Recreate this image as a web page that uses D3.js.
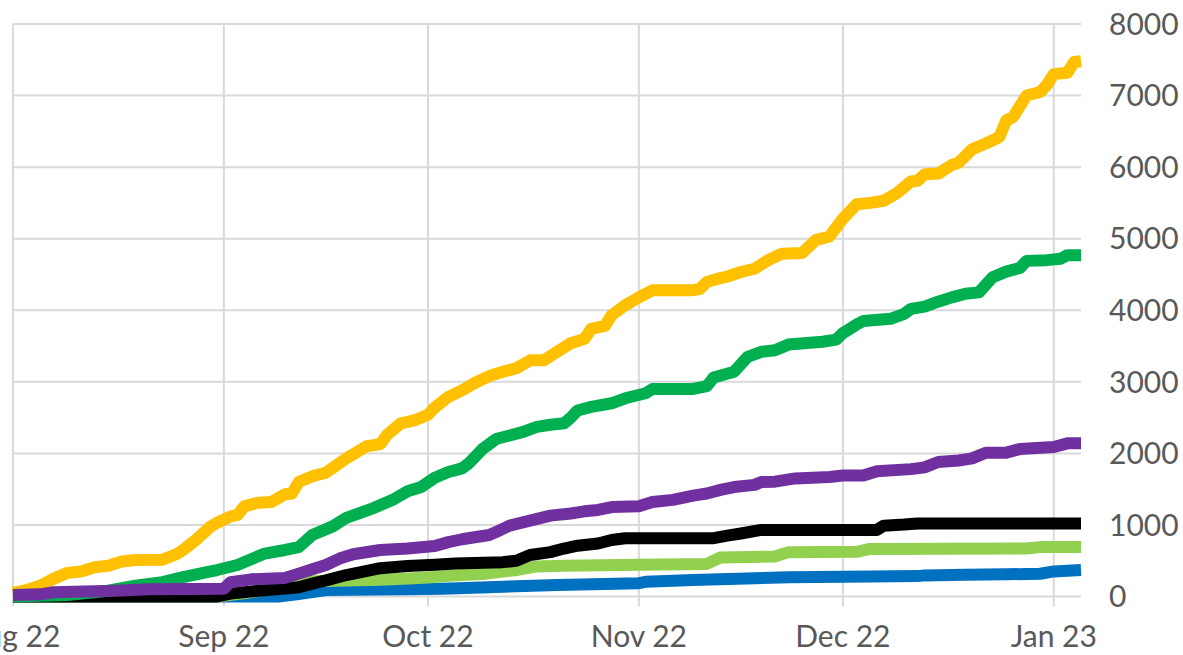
<!DOCTYPE html>
<html>
<head>
  <meta charset="utf-8">
  <title>Cumulative totals Aug 22 - Jan 23</title>
  <style>
    body { margin: 0; background: #fff; }
    svg { display: block; }
  </style>
</head>
<body>
  <script src="https://d3js.org/d3.v7.min.js"></script>
  <script>
  // days counted from 1 Aug 2022, cumulative value
  var yellow = [[0,50],[2,90],[4,150],[6,250],[8,330],[10,350],[12,410],[14,430],[16,490],[18,510],[22,515],[24,590],[25,650],[27,800],[29,975],[30,1030],[32,1120],[33,1140],[34,1260],[36,1310],[38,1320],[40,1430],[41,1440],[42,1600],[44,1680],[46,1730],[49,1930],[52,2100],[54,2130],[55,2260],[57,2420],[59,2460],[61,2540],[62,2640],[64,2790],[66,2880],[68,2990],[70,3080],[72,3140],[74,3190],[76,3300],[78,3300],[80,3420],[82,3540],[84,3600],[85,3740],[87,3780],[88,3930],[90,4070],[92,4180],[94,4280],[100,4280],[101,4300],[102,4395],[104,4450],[105,4470],[107,4535],[109,4580],[111,4700],[113,4790],[116,4800],[118,4980],[120,5030],[122,5280],[124,5480],[126,5500],[128,5530],[130,5640],[132,5800],[133,5810],[134,5900],[136,5910],[138,6030],[139,6060],[141,6250],[143,6330],[145,6420],[146,6650],[147,6700],[149,7000],[151,7050],[152,7150],[153,7300],[155,7320],[156,7470],[157,7480]];
  var green = [[0,0],[8,20],[14,80],[18,150],[22,200],[25,270],[28,330],[30,370],[33,440],[35,520],[37,600],[40,650],[42,690],[44,860],[47,980],[49,1100],[53,1235],[56,1360],[58,1470],[60,1530],[62,1660],[64,1740],[66,1790],[67,1860],[69,2060],[71,2200],[73,2250],[75,2300],[77,2370],[79,2400],[81,2420],[82,2500],[83,2600],[85,2650],[88,2700],[90,2770],[93,2840],[94,2900],[100,2900],[102,2940],[103,3060],[106,3140],[108,3350],[110,3420],[112,3440],[114,3520],[119,3560],[121,3590],[122,3680],[124,3800],[125,3850],[129,3880],[131,3950],[132,4020],[134,4050],[136,4120],[138,4180],[140,4230],[142,4250],[144,4460],[146,4540],[148,4590],[149,4690],[152,4700],[154,4720],[155,4770],[157,4770]];
  var purple = [[0,20],[4,30],[6,60],[15,80],[20,100],[31,110],[32,200],[35,240],[40,260],[42,320],[44,380],[46,440],[48,530],[50,590],[54,650],[58,670],[62,705],[64,760],[66,800],[70,860],[71,900],[73,990],[76,1060],[79,1130],[82,1160],[84,1190],[86,1210],[88,1250],[92,1260],[94,1320],[97,1350],[100,1410],[102,1440],[104,1490],[106,1530],[109,1560],[110,1600],[112,1605],[115,1650],[120,1670],[122,1690],[125,1690],[127,1750],[132,1780],[134,1805],[136,1880],[139,1900],[141,1930],[143,2010],[146,2010],[148,2060],[153,2090],[155,2140],[157,2140]];
  var black = [[0,0],[30,0],[32,40],[36,80],[40,110],[42,130],[44,180],[46,225],[49,300],[54,395],[58,425],[62,445],[65,460],[72,480],[74,500],[76,580],[79,620],[81,670],[83,710],[86,740],[88,790],[90,815],[103,815],[105,850],[107,880],[110,930],[127,930],[128,990],[131,1005],[133,1020],[157,1020]];
  var lightGreen = [[0,0],[30,0],[35,60],[40,150],[43,210],[49,225],[54,235],[59,255],[61,265],[64,290],[69,315],[74,370],[77,420],[81,430],[92,443],[102,455],[104,545],[112,560],[114,620],[124,625],[126,665],[149,670],[151,690],[157,690]];
  var blue = [[0,0],[39,0],[42,35],[46,90],[58,100],[63,110],[70,130],[80,160],[92,186],[93,205],[100,230],[114,270],[126,280],[133,285],[134,295],[140,305],[146,310],[151,318],[153,350],[157,370]];

  var seriesList = [
    { name: "blue",       color: "#0070C0", values: blue },
    { name: "lightGreen", color: "#92D050", values: lightGreen },
    { name: "black",      color: "#000000", values: black },
    { name: "yellow",     color: "#FFC000", values: yellow },
    { name: "green",      color: "#00B050", values: green },
    { name: "purple",     color: "#7030A0", values: purple }
  ];

  var monthTicks = ["2022-08-01", "2022-09-01", "2022-10-01", "2022-11-01", "2022-12-01", "2023-01-01"];
  var yTicks = [0, 1000, 2000, 3000, 4000, 5000, 6000, 7000, 8000];

  var W = 1183, H = 655;
  var plot = { left: 13, right: 1081, top: 24, bottom: 596.5 };

  var startDate = new Date(2022, 7, 1);
  var endDate = new Date(2023, 0, 5);
  var parse = d3.timeParse("%Y-%m-%d");
  var toDate = function(day) { return d3.timeDay.offset(startDate, day); };

  var x = d3.scaleTime().domain([startDate, endDate]).range([plot.left, plot.right]);
  var y = d3.scaleLinear().domain([0, 8000]).range([plot.bottom, plot.top]);

  var svg = d3.select("body").append("svg")
      .attr("width", W)
      .attr("height", H);

  var fontFamily = "'Century Gothic', 'Lato', 'Open Sans', sans-serif";

  // horizontal grid
  svg.append("g")
    .selectAll("line")
    .data(yTicks)
    .enter().append("line")
      .attr("x1", plot.left).attr("x2", plot.right)
      .attr("y1", function(d){ return y(d); })
      .attr("y2", function(d){ return y(d); })
      .attr("stroke", "#d9d9d9")
      .attr("stroke-width", 2);

  // vertical grid / month ticks
  var months = monthTicks.map(parse);
  svg.append("g")
    .selectAll("line")
    .data(months)
    .enter().append("line")
      .attr("x1", function(d){ return x(d); })
      .attr("x2", function(d){ return x(d); })
      .attr("y1", plot.top)
      .attr("y2", plot.bottom + 10)
      .attr("stroke", "#d9d9d9")
      .attr("stroke-width", 2);

  // x labels (Aug 22 runs off the left edge, as in the original)
  svg.append("g")
    .selectAll("text")
    .data(months)
    .enter().append("text")
      .attr("x", function(d){ return x(d); })
      .attr("y", 647)
      .attr("text-anchor", "middle")
      .attr("font-family", fontFamily)
      .attr("font-size", "30px")
      .attr("fill", "#595959")
      .text(d3.timeFormat("%b %y"));

  // y labels on right
  svg.append("g")
    .selectAll("text")
    .data(yTicks)
    .enter().append("text")
      .attr("x", 1109)
      .attr("y", function(d){ return y(d); })
      .attr("dy", "0.36em")
      .attr("font-family", fontFamily)
      .attr("font-size", "30px")
      .attr("fill", "#595959")
      .text(function(d){ return d; });

  var line = d3.line()
    .x(function(d){ return x(toDate(d[0])); })
    .y(function(d){ return y(d[1]); });

  svg.append("g")
    .selectAll("path")
    .data(seriesList)
    .enter().append("path")
      .attr("d", function(s){ return line(s.values); })
      .attr("fill", "none")
      .attr("stroke", function(s){ return s.color; })
      .attr("stroke-width", 12)
      .attr("stroke-linejoin", "round")
      .attr("stroke-linecap", "butt");
  </script>
</body>
</html>
